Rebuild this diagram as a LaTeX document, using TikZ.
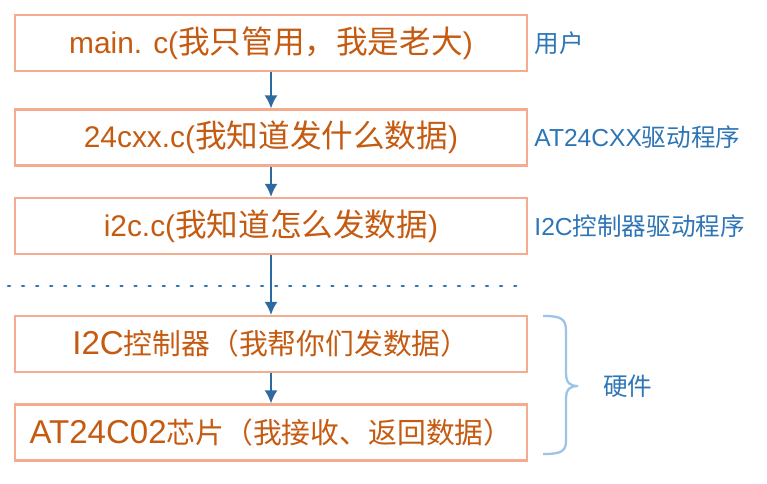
\documentclass[tikz,border=0pt]{standalone}
\usepackage{fontspec}
\setmainfont{Liberation Sans}
\setsansfont{Liberation Sans}
\newfontfamily\cjk{Noto Sans CJK SC}
\usetikzlibrary{positioning,arrows.meta}

\definecolor{boxline}{HTML}{F5AC8E}
\definecolor{boxtext}{HTML}{C55A11}
\definecolor{notetext}{HTML}{2E75B6}
\definecolor{flowarrow}{HTML}{2C6AA0}
\definecolor{bracecol}{HTML}{9DC3E6}

% Chinese text at a given size
\newcommand{\zh}[2]{{\cjk\fontsize{#1}{#1}\selectfont #2}}

\tikzset{
    layer/.style={draw=boxline, line width=1.2pt, minimum width=10.24cm,
        minimum height=1.12cm, inner sep=0pt, text=boxtext,
        font=\sffamily\fontsize{17}{20}\selectfont},
    hwlayer/.style={layer, font=\sffamily\fontsize{18.8}{20}\selectfont},
    note/.style={anchor=west, inner sep=0pt, text=notetext,
        font=\sffamily\fontsize{14}{16}\selectfont},
    flow/.style={->, draw=flowarrow, line width=1.2pt}
}

\begin{document}
\begin{tikzpicture}[font=\sffamily, >={Latex[length=7.5pt,width=7.5pt]}]

        \useasboundingbox (0,0) rectangle (15.34,-9.68);

        % ==========================================
        % 1. Software layers
        % ==========================================
        \node[layer] (app) at (5.42,-0.86) {main. c(\zh{18}{我只管用，我是老大})};
        \node[layer] (eeprom) at (5.42,-2.75) {24cxx.c(\zh{18}{我知道发什么数据})};
        \node[layer] (i2cdrv) at (5.42,-4.52) {i2c.c(\zh{18}{我知道怎么发数据})};

        \node[note] (applab) at ([xshift=0.12cm]app.east) {\zh{14}{用户}};
        \node[note] (eeplab) at ([xshift=0.12cm]eeprom.east) {AT24CXX\zh{14}{驱动程序}};
        \node[note] (drvlab) at ([xshift=0.12cm]i2cdrv.east) {I2C\zh{14}{控制器驱动程序}};

        % ==========================================
        % 2. Software / hardware border
        % ==========================================
        \coordinate (cutl) at (0.16,-5.72);
        \coordinate (cutr) at (10.54,-5.72);
        \draw[notetext, line width=1.3pt, line cap=round, dash pattern=on 1.2pt off 6.8pt]
            (cutl) -- (cutr);

        % ==========================================
        % 3. Hardware layers
        % ==========================================
        \node[hwlayer] (ctrl) at (5.42,-6.88) {I2C\zh{16.4}{控制器（我帮你们发数据）}};
        \node[hwlayer] (chip) at (5.42,-8.65) {AT24C02\zh{16.4}{芯片（我接收、返回数据）}};

        % brace
        \draw[bracecol, line width=1.3pt]
            (10.86,-6.32) .. controls (11.2,-6.32) and (11.32,-6.36) .. (11.32,-6.62) --
            (11.32,-7.46) .. controls (11.32,-7.66) and (11.4,-7.72) .. (11.56,-7.72)
            .. controls (11.4,-7.72) and (11.32,-7.78) .. (11.32,-7.98) --
            (11.32,-8.82) .. controls (11.32,-9.04) and (11.2,-9.08) .. (10.86,-9.08);
        \coordinate (tip) at (11.56,-7.72);
        \node[note, right=0.5cm of tip] (hwlab) {\zh{14}{硬件}};

        % ==========================================
        % 4. Call flow
        % ==========================================
        \draw[flow] (app) -- (eeprom);
        \draw[flow] (eeprom) -- (i2cdrv);
        \draw[flow] (i2cdrv) -- (ctrl);
        \draw[flow] (ctrl) -- (chip);

    \end{tikzpicture}
\end{document}
